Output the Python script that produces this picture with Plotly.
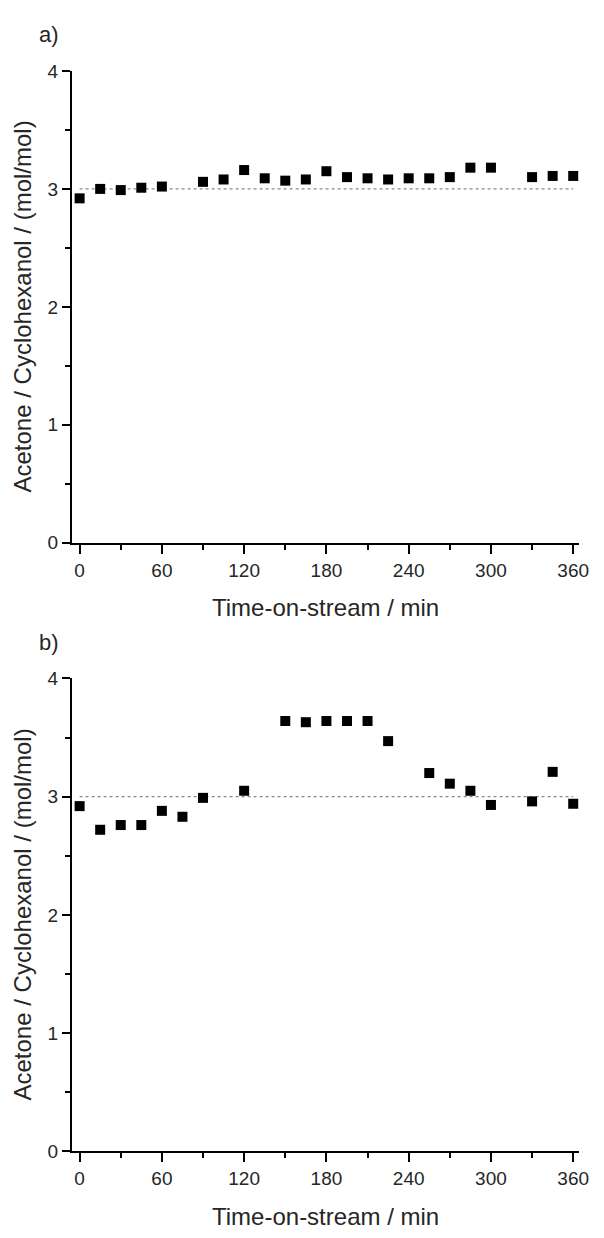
import plotly.graph_objects as go

# ---- data ----
time_a = [0, 15, 30, 45, 60, 90, 105, 120, 135, 150, 165, 180, 195, 210, 225,
          240, 255, 270, 285, 300, 330, 345, 360]
ratio_a = [2.92, 3.00, 2.99, 3.01, 3.02, 3.06, 3.08, 3.16, 3.09, 3.07, 3.08, 3.15,
           3.10, 3.09, 3.08, 3.09, 3.09, 3.10, 3.18, 3.18, 3.10, 3.11, 3.11]

time_b = [0, 15, 30, 45, 60, 75, 90, 120, 150, 165, 180, 195, 210, 225, 255,
          270, 285, 300, 330, 345, 360]
ratio_b = [2.92, 2.72, 2.76, 2.76, 2.88, 2.83, 2.99, 3.05, 3.64, 3.63, 3.64, 3.64,
           3.64, 3.47, 3.20, 3.11, 3.05, 2.93, 2.96, 3.21, 2.94]

x_ticks = [0, 60, 120, 180, 240, 300, 360]
y_ticks = [0, 1, 2, 3, 4]
stoich_ratio = 3
ref_x = [0, 360]
panel_labels = ["a)", "b)"]
x_title = "Time-on-stream / min"
y_title = "Acetone / Cyclohexanol / (mol/mol)"

W, H = 604, 1238
FONT = "Arial, 'Liberation Sans', sans-serif"
TXT = "#262626"

fig = go.Figure()

# pixel geometry -> paper fractions
x_dom = [73 / W, 589 / W]
y_doms = [[1 - 542 / H, 1 - 62 / H], [1 - 1161 / H, 1 - 680 / H]]

datasets = [(time_a, ratio_a), (time_b, ratio_b)]
for i, (t, r) in enumerate(datasets):
    xa = "x" if i == 0 else "x2"
    ya = "y" if i == 0 else "y2"
    # reference dotted line
    fig.add_trace(go.Scatter(x=ref_x, y=[stoich_ratio] * len(ref_x), mode="lines",
                             line=dict(color="#8a8a8a", width=1.2, dash="dot"),
                             xaxis=xa, yaxis=ya, showlegend=False, hoverinfo="skip"))
    fig.add_trace(go.Scatter(x=t, y=r, mode="markers",
                             marker=dict(symbol="square", size=10, color="#000000",
                                         line=dict(width=0)),
                             xaxis=xa, yaxis=ya, showlegend=False, cliponaxis=False))

axis_common = dict(showline=True, linecolor="#000000", linewidth=2, showgrid=False,
                   zeroline=False, ticks="outside", tickwidth=2, tickcolor="#000000",
                   tickfont=dict(family=FONT, size=19, color=TXT), mirror=False)

for i in range(2):
    sfx = "" if i == 0 else "2"
    fig.update_layout(**{
        "xaxis" + sfx: dict(axis_common, domain=x_dom, range=[-5.7, 364.4],
                            tickvals=x_ticks, ticklen=9,
                            minor=dict(dtick=30, tick0=0, ticklen=5, tickwidth=2,
                                       tickcolor="#000000", ticks="outside"),
                            anchor="y" + sfx),
        "yaxis" + sfx: dict(axis_common, domain=y_doms[i], range=[0, 4],
                            tickvals=y_ticks, ticklen=8,
                            minor=dict(dtick=0.5, tick0=0, ticklen=5, tickwidth=2,
                                       tickcolor="#000000", ticks="outside"),
                            anchor="x" + sfx),
    })

annotations = []
title_y_px = [608, 1227]
label_y_px = [25, 643]
for i in range(2):
    y0, y1 = y_doms[i]
    annotations.append(dict(text=x_title, xref="paper", yref="paper",
                            x=(x_dom[0] + x_dom[1]) / 2, y=1 - title_y_px[i] / H,
                            showarrow=False, xanchor="center", yanchor="middle",
                            font=dict(family=FONT, size=24, color=TXT)))
    annotations.append(dict(text=y_title, xref="paper", yref="paper",
                            x=23 / W, y=(y0 + y1) / 2, textangle=-90,
                            showarrow=False, xanchor="center", yanchor="middle",
                            font=dict(family=FONT, size=24, color=TXT)))
    annotations.append(dict(text=panel_labels[i], xref="paper", yref="paper",
                            x=50 / W, y=1 - label_y_px[i] / H,
                            showarrow=False, xanchor="center", yanchor="middle",
                            font=dict(family=FONT, size=22, color=TXT)))

fig.update_layout(width=W, height=H, margin=dict(l=0, r=0, t=0, b=0),
                  paper_bgcolor="white", plot_bgcolor="white",
                  annotations=annotations, showlegend=False)

fig.write_html("out.html")
